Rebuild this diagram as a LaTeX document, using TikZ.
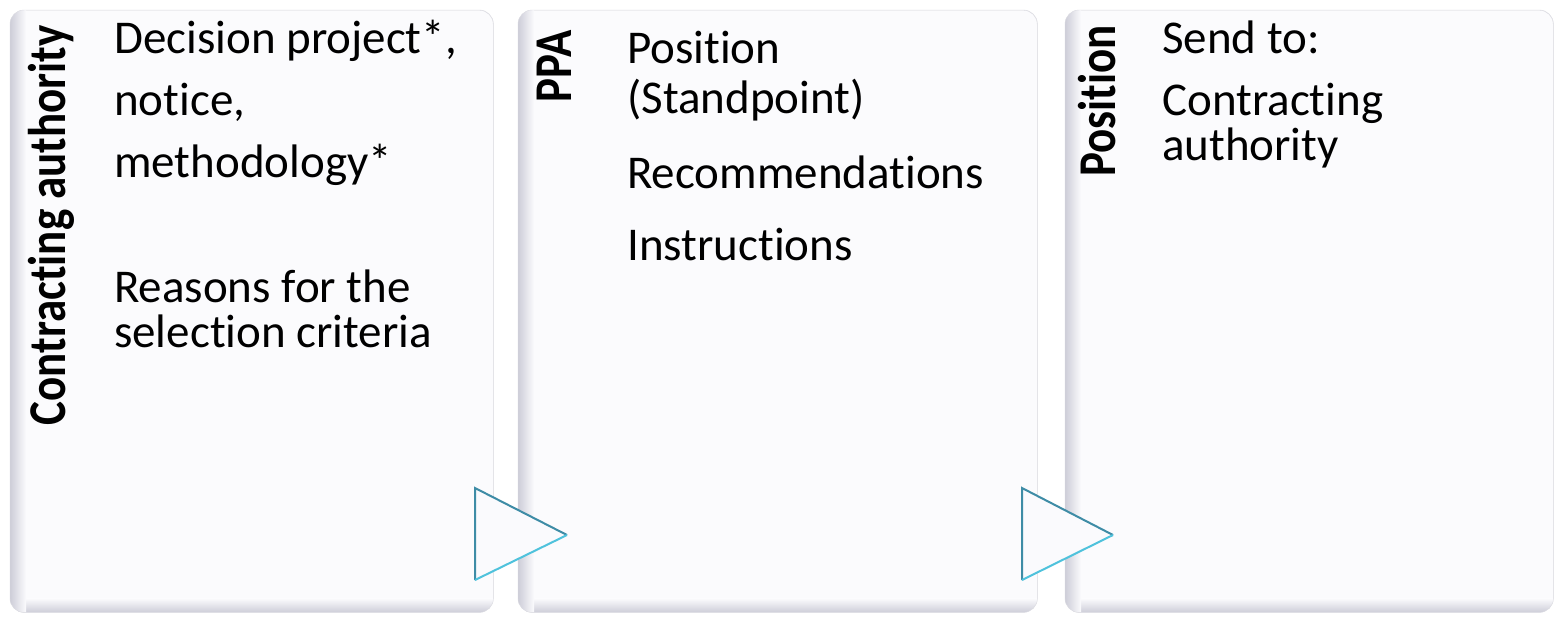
\documentclass[tikz,border=0pt]{standalone}
\usepackage{fontspec}
\setmainfont{Carlito}[Ligatures={NoCommon}]
\definecolor{panelfill}{HTML}{FBFBFD}
\definecolor{panelshade}{HTML}{CDCDD8}
\definecolor{panelline}{HTML}{DDDDE3}
\definecolor{tridark}{HTML}{3E8CA6}
\definecolor{trilight}{HTML}{4FC2DC}
\definecolor{trifill}{HTML}{FAFAFD}
\begin{document}
\begin{tikzpicture}[x=1pt,y=-1pt,
  panelnode/.style={draw=panelline, fill=panelfill, rounded corners=14pt, anchor=north west, inner sep=0pt, minimum height=602pt},
  txt/.style={anchor=base west, inner sep=0pt, font=\fontsize{47}{50}\selectfont},
  vlabel/.style={rotate=90, yscale=1.18, anchor=base east, inner sep=0pt, font=\bfseries\fontsize{45}{50}\selectfont},
  triedge/.style={line width=2pt, line join=miter}]
\useasboundingbox[fill=white] (0,0) rectangle (1560,616);

% panels
\node[panelnode, minimum width=483pt] (p1) at (10,10) {};
\node[panelnode, minimum width=519pt] (p2) at (518,10) {};
\node[panelnode, minimum width=488pt] (p3) at (1065,10) {};

\foreach \p in {p1,p2,p3}{
  \begin{scope}
    \clip[rounded corners=14pt] (\p.north west) rectangle (\p.south east);
    \shade[top color=panelfill, bottom color=panelshade] ([yshift=14pt]\p.south west) rectangle (\p.south east);
    \shade[left color=panelshade, right color=panelfill] (\p.north west) rectangle ([xshift=16pt]\p.south west);
  \end{scope}
  \draw[panelline, rounded corners=14pt] (\p.north west) rectangle (\p.south east);
}

% vertical labels
\node[vlabel] (l1) at (65,25) {Contracting authority};
\node[vlabel] (l2) at (571,30) {PPA};
\node[vlabel] (l3) at (1115,25) {Position};

% panel 1 text
\node[txt] (a1) at (114,53) {Decision project*,};
\node[txt] (a2) at (114,115) {notice,};
\node[txt] (a3) at (114,177) {methodology*};
\node[txt] (a4) at (114,302) {Reasons for the};
\node[txt] (a5) at (114,347) {selection criteria};

% panel 2 text
\node[txt] (b1) at (627,63) {Position};
\node[txt] (b2) at (627,113) {(Standpoint)};
\node[txt] (b3) at (627,188) {Recommendations};
\node[txt] (b4) at (627,260) {Instructions};

% panel 3 text
\node[txt] (c1) at (1162,53) {Send to:};
\node[txt] (c2) at (1162,115) {Contracting};
\node[txt] (c3) at (1162,160) {authority};

% arrow triangles
\coordinate (t1a) at (475,488);
\coordinate (t1b) at (567,535);
\coordinate (t1c) at (475,580);
\coordinate (t2a) at (1022,488);
\coordinate (t2b) at (1113,535);
\coordinate (t2c) at (1022,580);
\foreach \t in {t1,t2}{
  \fill[trifill] (\t a) -- (\t b) -- (\t c) -- cycle;
  \draw[triedge, tridark] (\t c) -- (\t a) -- (\t b);
  \draw[triedge, trilight] (\t b) -- (\t c);
}
\end{tikzpicture}
\end{document}
